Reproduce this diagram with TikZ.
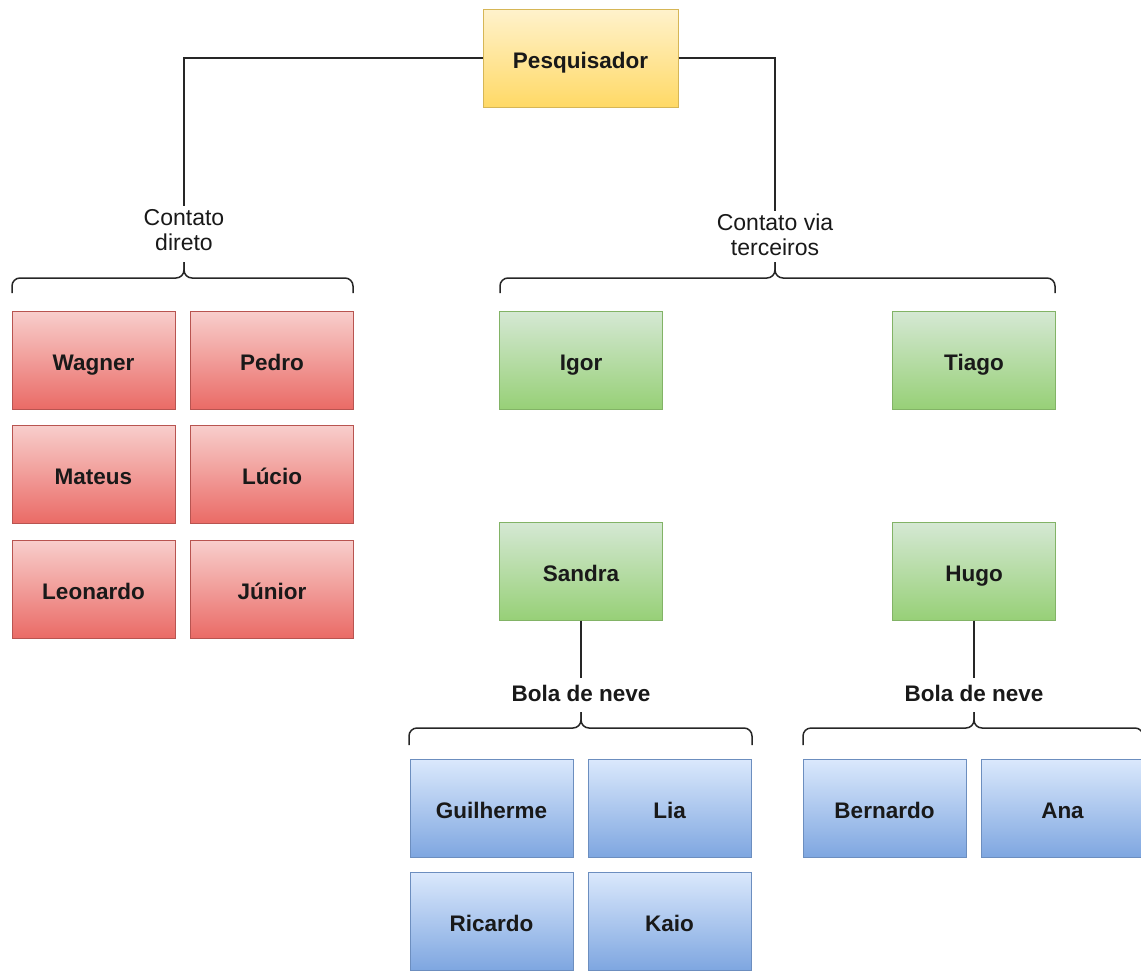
\documentclass[tikz,border=0pt]{standalone}
\usepackage{fontspec}
\setmainfont{Liberation Sans}
\usepackage{tikz}
\definecolor{amaTopo}{HTML}{FFF2CC}
\definecolor{amaBase}{HTML}{FFD966}
\definecolor{amaBorda}{HTML}{D6B656}
\definecolor{verTopo}{HTML}{F8CECC}
\definecolor{verBase}{HTML}{EA6B66}
\definecolor{verBorda}{HTML}{B85450}
\definecolor{vdTopo}{HTML}{D5E8D4}
\definecolor{vdBase}{HTML}{97D077}
\definecolor{vdBorda}{HTML}{82B366}
\definecolor{azTopo}{HTML}{DAE8FC}
\definecolor{azBase}{HTML}{7EA6E0}
\definecolor{azBorda}{HTML}{6C8EBF}
\tikzstyle{caixa} = [rectangle, minimum width=163pt, minimum height=98pt, inner sep=0pt, text centered, text height=20pt, text depth=0pt, line width=1pt, font=\fontsize{22.5}{25}\selectfont\bfseries, text=black!90]
\tikzstyle{chefe} = [caixa, minimum width=195pt, top color=amaTopo, bottom color=amaBase, draw=amaBorda]
\tikzstyle{direto} = [caixa, top color=verTopo, bottom color=verBase, draw=verBorda]
\tikzstyle{terceiro} = [caixa, top color=vdTopo, bottom color=vdBase, draw=vdBorda]
\tikzstyle{indicado} = [caixa, top color=azTopo, bottom color=azBase, draw=azBorda]
\tikzstyle{rotulo} = [align=center, inner sep=3pt, font=\fontsize{23}{24.5}\selectfont, text=black!90]
\tikzstyle{rotuloneg} = [inner xsep=3pt, inner ysep=5pt, text height=18pt, text depth=0pt, font=\fontsize{22.5}{25}\selectfont\bfseries, text=black!90]
\tikzstyle{linha} = [line width=1.5pt, black!85]
\tikzstyle{chave} = [line width=1.5pt, black!85, rounded corners=8pt]

\begin{document}
\begin{tikzpicture}[x=1pt, y=-1pt]
            \useasboundingbox (0,0) rectangle (1141,970);
            \node [chefe] at (580.5,58) (pesq) {Pesquisador};

            \node [rotulo] at (184,230) (contdireto) {Contato\\direto};
            \node [rotulo] at (775,235) (contterc) {Contato via\\terceiros};

            \node [direto] at (93.5,360) (wagner) {Wagner};
            \node [direto] at (272,360) (pedro) {Pedro};
            \node [direto] at (93.5,474) (mateus) {Mateus};
            \node [direto] at (272,474) (lucio) {Lúcio};
            \node [direto] at (93.5,589) (leonardo) {Leonardo};
            \node [direto] at (272,589) (junior) {Júnior};

            \node [terceiro] at (581,360) (igor) {Igor};
            \node [terceiro] at (974,360) (tiago) {Tiago};
            \node [terceiro] at (581,571) (sandra) {Sandra};
            \node [terceiro] at (974,571) (hugo) {Hugo};

            \node [rotuloneg] at (581,692) (bola1) {Bola de neve};
            \node [rotuloneg] at (974,692) (bola2) {Bola de neve};

            \node [indicado] at (491.5,808.5) (guilherme) {Guilherme};
            \node [indicado] at (669.5,808.5) (lia) {Lia};
            \node [indicado] at (491.5,921.5) (ricardo) {Ricardo};
            \node [indicado] at (669.5,921.5) (kaio) {Kaio};
            \node [indicado] at (884.5,808.5) (bernardo) {Bernardo};
            \node [indicado] at (1062.5,808.5) (ana) {Ana};

            \draw [linha] (pesq.west) -| (contdireto.north);
            \draw [linha] (pesq.east) -| (contterc.north);
            \draw [linha] (sandra.south) -- (bola1.north);
            \draw [linha] (hugo.south) -- (bola2.north);

            % chaves
            \draw [chave] (12,293) |- (184,278) -- (184,262);
            \draw [chave] (353,293) |- (184,278) -- (184,262);
            \draw [chave] (500,293) |- (775,278) -- (775,262);
            \draw [chave] (1055,293) |- (775,278) -- (775,262);
            \draw [chave] (409,745) |- (581,728) -- (581,712);
            \draw [chave] (752,745) |- (581,728) -- (581,712);
            \draw [chave] (803,745) |- (974,728) -- (974,712);
            \draw [chave] (1143,745) |- (974,728) -- (974,712);
\end{tikzpicture}
\end{document}
